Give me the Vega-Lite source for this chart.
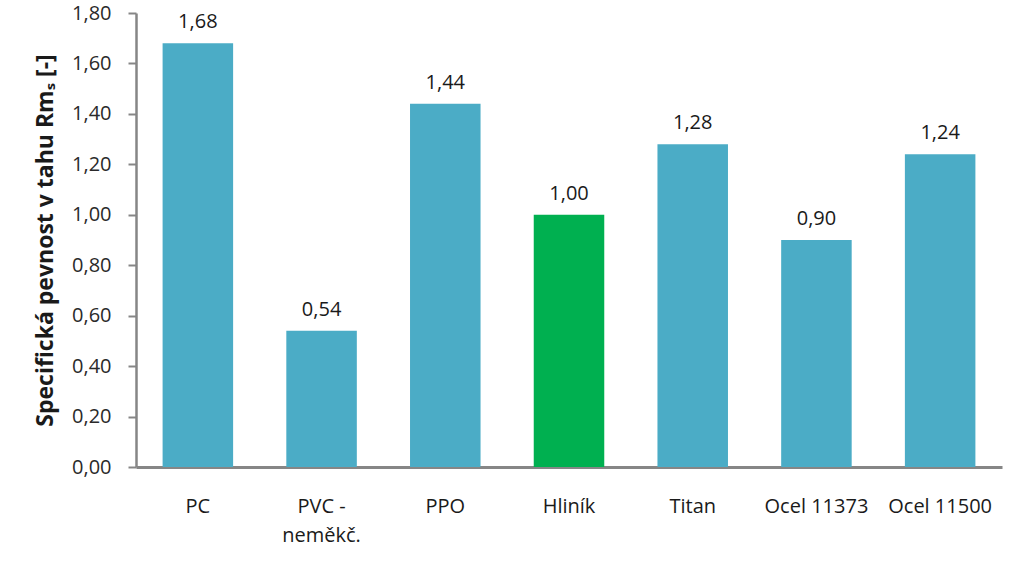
{
  "$schema": "https://vega.github.io/schema/vega-lite/v6.json",
  "autosize": {"type": "none"},
  "width": 866,
  "height": 454,
  "padding": {"left": 136, "top": 13, "right": 20, "bottom": 98},
  "background": "white",
  "config": {
    "locale": {"number": {"decimal": ",", "thousands": " ", "grouping": [3], "currency": ["", " Kč"]}},
    "view": {"stroke": null},
    "font": "Open Sans"
  },
  "data": {
    "values": [
      {"material": "PC", "value": 1.68, "group": "polymer"},
      {"material": "PVC - neměkč.", "value": 0.54, "group": "polymer"},
      {"material": "PPO", "value": 1.44, "group": "polymer"},
      {"material": "Hliník", "value": 1.0, "group": "ref"},
      {"material": "Titan", "value": 1.28, "group": "polymer"},
      {"material": "Ocel 11373", "value": 0.9, "group": "polymer"},
      {"material": "Ocel 11500", "value": 1.24, "group": "polymer"}
    ]
  },
  "encoding": {
    "x": {
      "field": "material",
      "type": "nominal",
      "sort": null,
      "scale": {"paddingInner": 0.43, "paddingOuter": 0.215},
      "axis": {
        "title": null,
        "labelAngle": 0,
        "labelFont": "Open Sans",
        "labelFontSize": 20,
        "labelColor": "#1a1a1a",
        "labelPadding": 29,
        "labelBaseline": "top",
        "labelLineHeight": 29,
        "ticks": false,
        "domainColor": "#868686",
        "domainWidth": 3,
        "labelExpr": "datum.value == 'PVC - neměkč.' ? ['PVC -', 'neměkč.'] : datum.value"
      }
    },
    "y": {
      "field": "value",
      "type": "quantitative",
      "scale": {"domain": [0, 1.8], "nice": false},
      "axis": {
        "title": "Specifická pevnost v tahu Rmₛ [-]",
        "titleFont": "Open Sans",
        "titleFontSize": 23,
        "titleFontWeight": "bold",
        "titleColor": "#1a1a1a",
        "titlePadding": 14,
        "values": [0, 0.2, 0.4, 0.6, 0.8, 1.0, 1.2, 1.4, 1.6, 1.8],
        "format": ".2f",
        "grid": false,
        "labelFont": "Open Sans",
        "labelFontSize": 20,
        "labelColor": "#2a2a2a",
        "labelPadding": 17,
        "tickSize": 8,
        "tickColor": "#868686",
        "tickWidth": 2,
        "domainColor": "#868686",
        "domainWidth": 2.5
      }
    }
  },
  "layer": [
    {
      "mark": {"type": "bar"},
      "encoding": {
        "color": {
          "field": "group",
          "type": "nominal",
          "scale": {"domain": ["polymer", "ref"], "range": ["#4BACC6", "#00B050"]},
          "legend": null
        }
      }
    },
    {
      "mark": {"type": "text", "baseline": "alphabetic", "dy": -15, "fontSize": 20, "font": "Open Sans", "color": "#1a1a1a"},
      "encoding": {
        "text": {"field": "value", "type": "quantitative", "format": ".2f"}
      }
    }
  ]
}
